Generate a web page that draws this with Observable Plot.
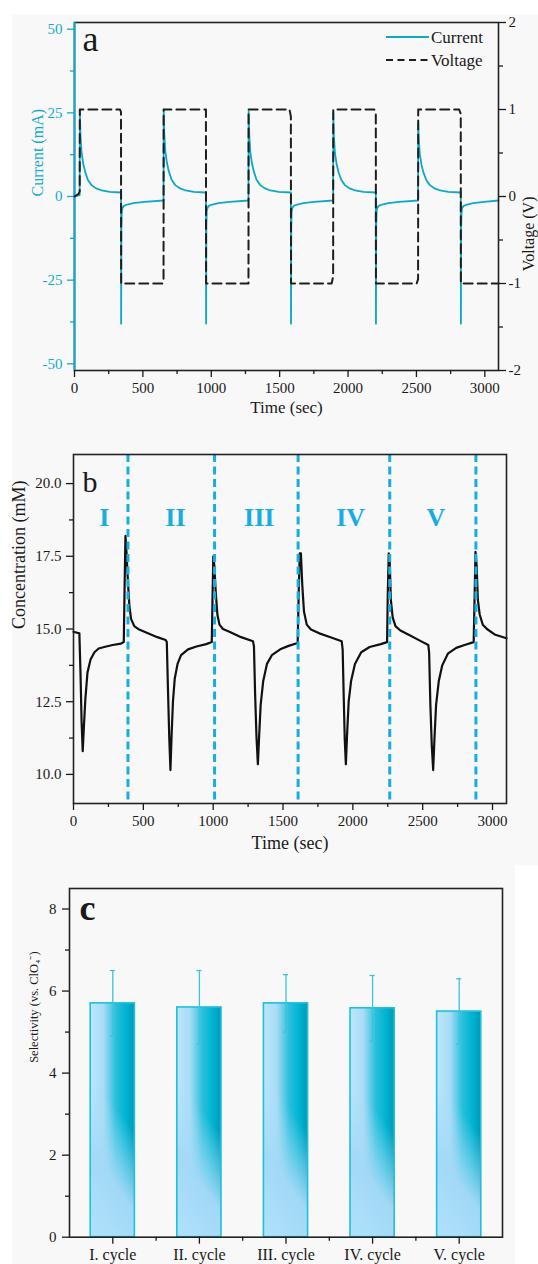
<!DOCTYPE html>
<html><head><meta charset="utf-8">
<script src="https://cdn.jsdelivr.net/npm/d3@7"></script>
<script src="https://cdn.jsdelivr.net/npm/@observablehq/plot@0.6"></script>
<style>
body{margin:0;background:#fff;}
#root{position:relative;width:538px;height:1264px;overflow:hidden;}
.bg{position:absolute;background:#f8f8f8;}
.panel{position:absolute;left:0;}
.panel svg{position:absolute;left:0;top:0;display:block;}
</style></head><body>
<div id="root">
<div class="bg" style="left:12px;top:15px;width:526px;height:850px"></div>
<div class="bg" style="left:12px;top:865px;width:503px;height:399px"></div>
<div id="pa" class="panel" style="top:0;width:538px;height:430px"></div>
<div id="pb" class="panel" style="top:430px;width:538px;height:430px"></div>
<div id="pc" class="panel" style="top:860px;width:538px;height:404px"></div>
</div>
<script>
// ---------- Panel a data ----------
const curT = [0,38,
  39,43,51,63,77,97,124,159,199,259,340,
  341,343,346,351,361,386,431,511,651,
  652,656,664,676,690,710,737,772,812,872,961,
  962,964,967,972,982,1007,1052,1132,1272,
  1273,1277,1285,1297,1311,1331,1358,1393,1433,1493,1582,
  1583,1585,1588,1593,1603,1628,1673,1753,1891,
  1892,1896,1904,1916,1930,1950,1977,2012,2052,2112,2203,
  2204,2206,2209,2214,2224,2249,2294,2374,2512,
  2513,2517,2525,2537,2551,2571,2598,2633,2673,2733,2824,
  2825,2827,2830,2835,2845,2870,2915,2995,3100];
const curV = [0,0.4,
  26,19,13.5,10,7.5,5,3.4,2.4,1.8,1.4,1.2,
  -38,-9,-4.5,-3.4,-2.8,-2.4,-2.0,-1.6,-1.2,
  26,19,13.5,10,7.5,5,3.4,2.4,1.8,1.4,1.2,
  -38,-9,-4.5,-3.4,-2.8,-2.4,-2.0,-1.6,-1.2,
  25.5,19,13.5,10,7.5,5,3.4,2.4,1.8,1.4,1.2,
  -38,-9,-4.5,-3.4,-2.8,-2.4,-2.0,-1.6,-1.2,
  25,18.5,13,9.8,7.3,5,3.4,2.4,1.8,1.4,1.2,
  -38,-9,-4.5,-3.4,-2.8,-2.4,-2.0,-1.6,-1.2,
  22,17,12.5,9.5,7.2,5,3.4,2.4,1.8,1.4,1.2,
  -38,-9,-4.5,-3.4,-2.8,-2.4,-2.0,-1.6,-1.2];
const voltT = [0,30,38,39,333,340,341,643,651,652,955,961,962,1265,1272,1273,1572,1582,1583,1880,1891,1892,2192,2203,2204,2502,2512,2513,2812,2824,2825,3100];
const voltV = [0,0.03,0.06,1,1,0.97,-1,-1,-0.95,1,1,1,-1,-1,-1,1,1,0.92,-1,-1,-0.92,1,1,0.95,-1,-1,-0.95,1,1,0.95,-1,-1];
const timeTicks = [0,500,1000,1500,2000,2500,3000];
const timeMinor = [250,750,1250,1750,2250,2750];
const currentTicks = [-50,-25,0,25,50];
const currentMinor = [-37.5,-12.5,12.5,37.5];
const voltTicks = [-2,-1,0,1,2];
const voltMinor = [-1.5,-0.5,0.5,1.5];
const legendLabels = ["Current","Voltage"];

// ---------- Panel b data ----------
const concT = [0,20,42,50,58,66,74,85,100,122,150,180,220,280,340,360,366,372,380,390,400,412,435,470,520,600,660,668,676,686,694,702,712,725,745,770,820,880,950,990,995,1001,1008,1018,1030,1045,1070,1120,1200,1285,1292,1300,1310,1320,1328,1340,1358,1385,1420,1480,1540,1605,1612,1620,1628,1638,1650,1670,1700,1760,1850,1920,1927,1935,1942,1950,1958,1970,1987,2015,2060,2120,2200,2245,2250,2257,2264,2272,2285,2305,2340,2400,2480,2540,2546,2555,2565,2575,2584,2596,2615,2640,2680,2740,2800,2865,2872,2878,2886,2895,2908,2930,2960,3020,3100];
const concV = [14.9,14.88,14.85,13.5,11.8,10.8,11.6,12.6,13.5,13.95,14.2,14.33,14.38,14.45,14.5,14.55,16.5,18.2,17.6,16.6,15.8,15.35,15.1,14.98,14.88,14.72,14.62,14.55,13.0,11.2,10.15,11.3,12.5,13.3,13.8,14.1,14.3,14.4,14.48,14.55,16.0,17.5,17.2,16.3,15.5,15.15,15.0,14.9,14.72,14.58,14.4,12.8,11.3,10.35,11.2,12.4,13.2,13.8,14.1,14.3,14.42,14.52,16.2,17.6,17.6,16.5,15.6,15.15,14.98,14.85,14.7,14.58,14.3,12.6,11.2,10.35,11.3,12.5,13.2,13.8,14.2,14.38,14.48,14.55,16.2,17.6,17.3,16.0,15.4,15.1,14.95,14.8,14.6,14.45,14.2,12.4,11.0,10.15,11.2,12.4,13.2,13.75,14.15,14.35,14.45,14.55,16.2,17.65,17.2,16.0,15.5,15.15,15.0,14.8,14.68];
const cycleBoundaryT = [390,1010,1608,2264,2881];
const cycleRoman = ["I","II","III","IV","V"];
const cycleRomanT = [221,730,1330,1984,2594];
const concTicks = [10,12.5,15,17.5,20];
const concMinor = [11.25,13.75,16.25,18.75];

// ---------- Panel c data ----------
const cycles = ["I. cycle","II. cycle","III. cycle","IV. cycle","V. cycle"];
const selectivity = [5.7,5.6,5.7,5.58,5.5];
const selHigh = [6.5,6.5,6.4,6.38,6.3];
const selLow = [4.9,4.7,5.0,4.78,4.7];
const selTicks = [0,2,4,6,8];
const selMinor = [1,3,5,7];

// ---------- styles ----------
const FONT = "'Liberation Serif','Times New Roman',serif";
const CYAN = "#0ea8c6";
const CYAN_AX = "#14abcb";
const DASHBLUE = "#18ade2";
const ERR = "#3cc4de";
const baseStyle = {fontFamily: FONT, fontSize: "15px", background: "none", color: "#1a1a1a", overflow: "visible"};
const num = d => String(d);

// ---------- Panel a ----------
const curData = curT.map((t,i)=>({t, v:curV[i]}));
const voltData = voltT.map((t,i)=>({t, v:voltV[i]}));
const A = {width:538, height:430, marginLeft:74, marginRight:40, marginTop:22, marginBottom:60};

const pa1 = Plot.plot({...A, style: baseStyle,
  x:{domain:[0,3100]}, y:{domain:[-52,52]},
  marks:[
    Plot.line(curData,{x:"t",y:"v",stroke:CYAN,strokeWidth:1.8}),
    Plot.frame({stroke:"#222",strokeWidth:1.6}),
    Plot.ruleX([0],{stroke:CYAN_AX,strokeWidth:2}),
    Plot.axisX({ticks:timeTicks,tickSize:7,tickPadding:5,tickFormat:num,label:null,strokeWidth:1.3,fontSize:15}),
    Plot.axisX({ticks:timeMinor,tickSize:4,fill:"none",label:null,strokeWidth:1.3}),
    Plot.axisY({ticks:currentTicks,anchor:"left",tickSize:7,tickPadding:5,tickFormat:num,color:CYAN_AX,label:null,strokeWidth:1.3,fontSize:15}),
    Plot.axisY({ticks:currentMinor,anchor:"left",tickSize:4,fill:"none",stroke:CYAN_AX,label:null,strokeWidth:1.3}),
    Plot.text(["Current (mA)"],{text:d=>d,frameAnchor:"left",dx:-37,rotate:-90,fill:CYAN_AX,fontSize:16}),
    Plot.text(["Time (sec)"],{text:d=>d,frameAnchor:"bottom",dy:42,fontSize:17}),
    Plot.text(["a"],{text:d=>d,frameAnchor:"top-left",dx:8,dy:28,textAnchor:"start",lineAnchor:"bottom",fontSize:36})
  ]});

const pa2 = Plot.plot({...A, style: baseStyle,
  x:{domain:[0,3100], axis:null}, y:{domain:[-2,2]},
  marks:[
    Plot.line(voltData,{x:"t",y:"v",stroke:"#1e1e1e",strokeWidth:2,strokeDasharray:"9,5"}),
    Plot.axisY({ticks:voltTicks,anchor:"right",tickSize:7,tickPadding:3,tickFormat:num,label:null,strokeWidth:1.3,fontSize:15}),
    Plot.axisY({ticks:voltMinor,anchor:"right",tickSize:4,fill:"none",label:null,strokeWidth:1.3}),
    Plot.text(["Voltage (V)"],{text:d=>d,frameAnchor:"right",dx:30,rotate:-90,fontSize:16})
  ]});

// legend
{
  const g = d3.select(pa2).append("g").attr("font-family", FONT).attr("font-size", 17).attr("text-anchor","start");
  const styles = [[CYAN, null, 37, 43], ["#1e1e1e", "7,4.5", 60, 66]];
  legendLabels.forEach((lab, k) => {
    const [col, dash, ly, ty] = styles[k];
    const l = g.append("line").attr("x1",386).attr("x2",429).attr("y1",ly).attr("y2",ly)
      .attr("stroke",col).attr("stroke-width",2);
    if (dash) l.attr("stroke-dasharray",dash);
    g.append("text").attr("x",431).attr("y",ty).attr("fill","#1a1a1a").attr("text-anchor","start").text(lab);
  });
}
document.getElementById("pa").append(pa1, pa2);

// ---------- Panel b ----------
const concData = concT.map((t,i)=>({t, c:concV[i]}));
const romanData = cycleRoman.map((r,i)=>({r, t:cycleRomanT[i]}));
const pb = Plot.plot({width:538, height:430, marginLeft:73, marginRight:32, marginTop:24, marginBottom:57,
  style: baseStyle, x:{domain:[0,3100]}, y:{domain:[9,21]},
  marks:[
    Plot.line(concData,{x:"t",y:"c",stroke:"#111",strokeWidth:2.2}),
    Plot.ruleX(cycleBoundaryT,{stroke:DASHBLUE,strokeWidth:3,strokeDasharray:"8,4.5"}),
    Plot.text(romanData,{x:"t",text:"r",frameAnchor:"top",dy:53,fill:DASHBLUE,fontWeight:"bold",fontSize:26}),
    Plot.frame({stroke:"#222",strokeWidth:1.6}),
    Plot.axisX({ticks:timeTicks,tickSize:7,tickPadding:5,tickFormat:num,label:null,strokeWidth:1.3,fontSize:15}),
    Plot.axisX({ticks:timeMinor,tickSize:4,fill:"none",label:null,strokeWidth:1.3}),
    Plot.axisY({ticks:concTicks,tickSize:7,tickPadding:5,tickFormat:d=>d.toFixed(1),label:null,strokeWidth:1.3,fontSize:15}),
    Plot.axisY({ticks:concMinor,tickSize:4,fill:"none",label:null,strokeWidth:1.3}),
    Plot.text(["Concentration (mM)"],{text:d=>d,frameAnchor:"left",dx:-54,rotate:-90,fontSize:18}),
    Plot.text(["Time (sec)"],{text:d=>d,frameAnchor:"bottom",dy:45,fontSize:18}),
    Plot.text(["b"],{text:d=>d,frameAnchor:"top-left",dx:9,dy:37,textAnchor:"start",lineAnchor:"bottom",fontSize:30})
  ]});
document.getElementById("pb").append(pb);

// ---------- Panel c ----------
const selData = cycles.map((c,i)=>({i, c, v:selectivity[i], hi:selHigh[i], lo:selLow[i]}));
const pc = Plot.plot({width:538, height:404, marginLeft:69, marginRight:36, marginTop:28, marginBottom:27.3,
  style: baseStyle, x:{domain:[0,cycles.length]}, y:{domain:[0,8.5]},
  marks:[
    Plot.rect(selData,{x1:d=>d.i+0.245,x2:d=>d.i+0.755,y1:0,y2:"v",fill:"url(#barH)"}),
    Plot.rect(selData,{x1:d=>d.i+0.245,x2:d=>d.i+0.755,y1:0,y2:"v",fill:"url(#barV)",stroke:"#1ec0dc",strokeWidth:1.6}),
    Plot.ruleX(selData,{x:d=>d.i+0.5,y1:"lo",y2:"hi",stroke:ERR,strokeWidth:1.3}),
    Plot.ruleY(selData,{x1:d=>d.i+0.47,x2:d=>d.i+0.53,y:"hi",stroke:ERR,strokeWidth:1.3}),
    Plot.ruleY(selData,{x1:d=>d.i+0.47,x2:d=>d.i+0.53,y:"lo",stroke:ERR,strokeWidth:1.3}),
    Plot.frame({stroke:"#222",strokeWidth:1.6}),
    Plot.axisX({ticks:cycles.map((c,i)=>i+0.5),tickFormat:d=>cycles[Math.round(d-0.5)],tickSize:7,tickPadding:4,label:null,strokeWidth:1.3,fontSize:16}),
    Plot.axisX({ticks:d3.range(1,cycles.length),tickSize:4,fill:"none",label:null,strokeWidth:1.3}),
    Plot.axisY({ticks:selTicks,tickSize:7,tickPadding:6,tickFormat:num,label:null,strokeWidth:1.3,fontSize:15}),
    Plot.axisY({ticks:selMinor,tickSize:4,fill:"none",label:null,strokeWidth:1.3}),
    Plot.text(["Selectivity (vs. ClO\u2084\u207B)"],{text:d=>d,frameAnchor:"left",dx:-36,rotate:-90,fontSize:12.5}),
    Plot.text(["c"],{text:d=>d,frameAnchor:"top-left",dx:10,dy:31,textAnchor:"start",lineAnchor:"bottom",fontSize:36,fontWeight:"bold"})
  ]});
{
  const defs = d3.select(pc).insert("defs",":first-child");
  const gh = defs.append("linearGradient").attr("id","barH").attr("x1",0).attr("x2",1).attr("y1",0).attr("y2",0);
  [[0,"#bde6fd"],[0.3,"#a8dcf6"],[0.58,"#2bbfdc"],[0.8,"#00b5d2"],[1,"#009ab7"]]
    .forEach(([o,c])=>gh.append("stop").attr("offset",o).attr("stop-color",c));
  const gv = defs.append("linearGradient").attr("id","barV").attr("x1",0.25).attr("x2",0).attr("y1",0).attr("y2",1);
  [[0,"#a8dcf8",0],[0.34,"#a8dcf8",0],[0.66,"#a3d9f7",0.98],[1,"#b0e1fb",1]]
    .forEach(([o,c,a])=>gv.append("stop").attr("offset",o).attr("stop-color",c).attr("stop-opacity",a));
}
document.getElementById("pc").append(pc);
</script>
</body></html>
